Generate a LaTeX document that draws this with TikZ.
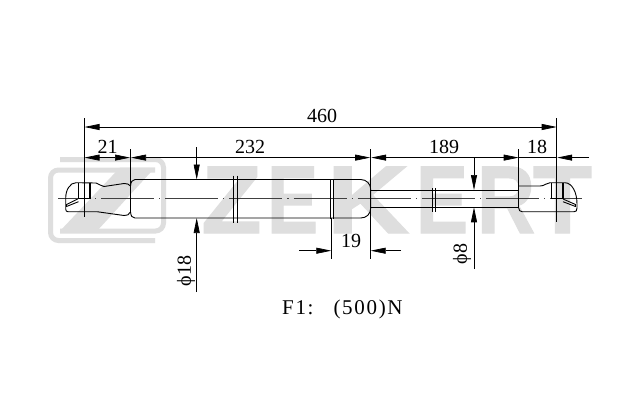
\documentclass[tikz,border=0pt]{standalone}
\usepackage{fontspec}
\usepackage{graphicx}
\usetikzlibrary{arrows.meta}
\setmainfont{Liberation Serif}
\newfontfamily\logofont[FakeBold=1.5]{Liberation Sans Bold}
\newfontfamily\spacedfont[LetterSpace=8]{Liberation Serif}
\definecolor{logogray}{HTML}{DEDEDE}
\newcommand{\logoglyph}[4]{\node[glyph] (#1) at (#2,233) {\resizebox{#3pt}{66pt}{\logofont #4}};}
\tikzset{
  glyph/.style={anchor=south west,inner sep=0pt,outer sep=0pt,text=logogray},
  logoline/.style={draw=logogray,line width=5pt,rounded corners=8pt},
  part/.style={draw=black,line width=0.9pt,line join=round},
  heavy/.style={draw=black,line width=1.3pt},
  dimline/.style={draw=black,line width=0.7pt},
  tips/.style={{Triangle[length=15pt,width=6pt]}-{Triangle[length=15pt,width=6pt]}},
  tipend/.style={-{Triangle[length=15pt,width=6pt]}},
  centerline/.style={draw=black!75,line width=0.7pt,dash pattern=on 53pt off 5pt on 1.2pt off 5pt,dash phase=21.2pt},
  dimtext/.style={font=\fontsize{20}{20}\selectfont,inner sep=0pt}
}
\begin{document}
\begin{tikzpicture}[x=1pt,y=-1pt]
\useasboundingbox[fill=white] (0,0) rectangle (640,400);
% logo
\draw[logoline] (60,159.5) -- (163.5,159.5) -- (163.5,231) -- (60,231);
\draw[logoline] (155,170) -- (50.5,170) -- (50.5,240.5) -- (155,240.5);
\fill[logogray] (155,167.5) -- (120,167.5) -- (60,231) -- (97,231) -- cycle;
\logoglyph{lz}{201.5}{60}{Z}
\logoglyph{le}{267}{51}{E}
\logoglyph{lk}{327}{82}{K}
\logoglyph{lf}{416}{52}{E}
\logoglyph{lr}{477}{58}{R}
\logoglyph{lt}{533}{59}{T}
% centre line
\draw[centerline] (58,198.8) -- (582,198.8);
% rod
\draw[part] (370.7,190) -- (518.7,190) (370.7,207.3) -- (518.7,207.3);
\draw[part] (432.3,188) -- (432.3,211.6) (435.3,188) -- (435.3,211.6);
% cylinder
\draw[part] (130.5,186) .. controls (131,182) and (132,179.5) .. (135,179.5) -- (360.7,179.5)
  .. controls (366.5,179.5) and (370.7,184) .. (370.7,189.5) -- (370.7,208)
  .. controls (370.7,214) and (366.5,218) .. (360.7,218) -- (135,218)
  .. controls (132,218) and (131,216) .. (130.5,212);
\draw[part] (233.5,175.7) -- (233.5,223) (237.5,175.7) -- (237.5,223);
\draw[part] (330,179) -- (330,218.5) (333,179) -- (333,218.5);
% left end
\draw[part] (130.5,186) .. controls (129,184) and (127,183.5) .. (124,183.5) -- (104,186.5)
  .. controls (101,186.5) and (99,183.5) .. (96,183) -- (76,182.7)
  .. controls (70,182.7) and (65.7,190) .. (65.7,198) -- (65.7,209)
  .. controls (65.7,211) and (66.5,211.7) .. (68,211.7) -- (97,211.7) -- (124,215.5)
  .. controls (127,215.5) and (129,215) .. (130.5,212);
\draw[heavy] (78.3,198.8) -- (78.3,182.7) (90,182.7) -- (90,198.8) -- (78.3,198.8);
\draw[part] (77.7,199) -- (66.5,204.5) -- (66.5,206.5) -- (78.5,201.7);
% right end
\draw[part] (518.7,186) -- (540,186) .. controls (545,186) and (546,182.7) .. (550,182.7) -- (565,182.7)
  .. controls (572,183) and (577,192) .. (577,204) -- (577,208)
  .. controls (577,211) and (576,211.7) .. (574,211.7) -- (522,211.7)
  .. controls (520,211.7) and (518.7,210) .. (518.7,208);
\draw[heavy] (551.7,198.8) -- (551.7,182.7) (563,182.7) -- (563,198.8) -- (551.7,198.8);
\draw[part] (563,199) -- (575.5,204.5) -- (575.5,206.5) -- (563,201.7);
% extension lines
\draw[dimline] (84.5,118) -- (84.5,217);
\draw[dimline] (130.5,149) -- (130.5,212);
\draw[dimline] (331.3,218) -- (331.3,259);
\draw[dimline] (370.7,149) -- (370.7,259);
\draw[dimline] (518.7,149) -- (518.7,208);
\draw[dimline] (556.7,118) -- (556.7,221.7);
% dimensions
\draw[dimline,tips] (84.5,127) -- (556.7,127);
\draw[dimline,tips] (84.5,157.6) -- (130,157.6);
\draw[dimline,tips] (131,157.6) -- (370.2,157.6);
\draw[dimline,tips] (371.2,157.6) -- (518.7,157.6);
\draw[dimline] (518.7,157.6) -- (556.7,157.6);
\draw[dimline,tipend] (589,157.6) -- (557.2,157.6);
\draw[dimline,tipend] (299,250.7) -- (331.3,250.7);
\draw[dimline,tipend] (401,250.7) -- (370.7,250.7);
\draw[dimline,tipend] (196.7,147) -- (196.7,179.5);
\draw[dimline,tipend] (196.7,292) -- (196.7,218);
\draw[dimline,tipend] (474,157.6) -- (474,190);
\draw[dimline,tipend] (474,269) -- (474,207.3);
% labels
\node[dimtext] (t460) at (322,116) {460};
\node[dimtext] (t21) at (107.5,147) {21};
\node[dimtext] (t232) at (250,146.5) {232};
\node[dimtext] (t189) at (444,146.5) {189};
\node[dimtext] (t18) at (537,146.5) {18};
\node[dimtext] (t19) at (351,240.5) {19};
\node[dimtext,rotate=90] (tp18) at (186,271) {ϕ18};
\node[dimtext,rotate=90] (tp8) at (462,254) {ϕ8};
\node[anchor=west,inner sep=0pt,font=\fontsize{21}{21}\selectfont\spacedfont] (force) at (282,309) {F1:\hspace{20pt}(500)N};
\end{tikzpicture}
\end{document}
